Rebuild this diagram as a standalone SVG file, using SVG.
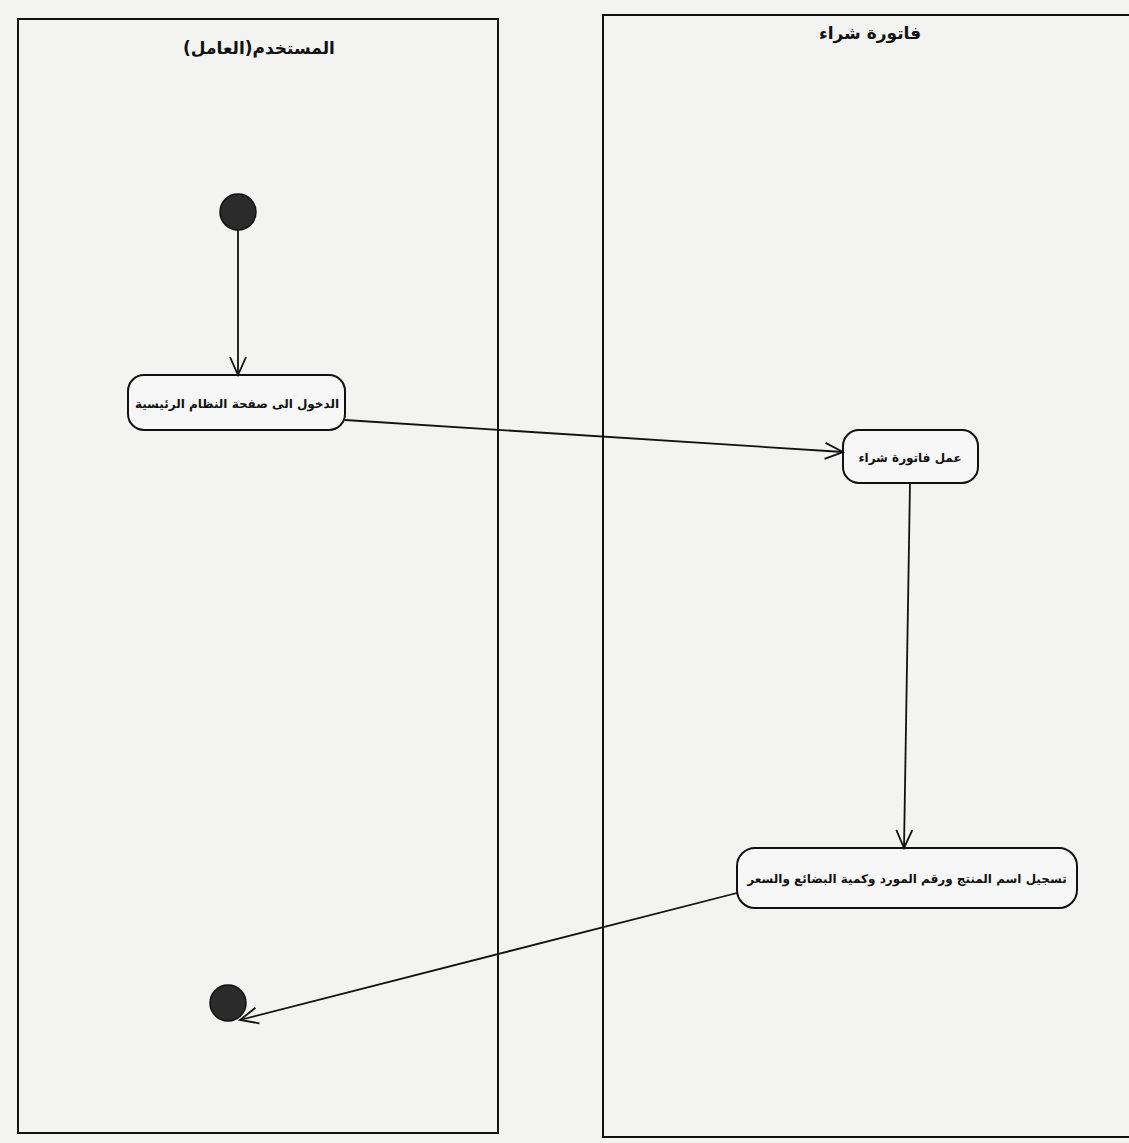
<svg xmlns="http://www.w3.org/2000/svg" width="1129" height="1143" viewBox="0 0 1129 1143">
<defs>
<style>
.lane{fill:none;stroke:#111;stroke-width:2}
.title{font-family:"DejaVu Sans","Noto Sans",sans-serif;font-size:17px;font-weight:bold;fill:#111;text-anchor:middle}
.act rect{fill:#f7f7f7;stroke:#111;stroke-width:2}
.act text{font-family:"DejaVu Sans","Noto Sans",sans-serif;font-size:12px;font-weight:bold;fill:#111;text-anchor:middle}
.flow{fill:none;stroke:#111;stroke-width:1.8}
.dot{fill:#2b2b2b;stroke:#111;stroke-width:1.5}
</style>
<marker id="arr" markerWidth="22" markerHeight="22" refX="20" refY="11" orient="auto" markerUnits="userSpaceOnUse">
<path d="M2,3 L20,11 L2,19" fill="none" stroke="#111" stroke-width="1.8"/>
</marker>
</defs>
<rect width="1129" height="1143" fill="#f3f3f2"/>
<g id="lane-user">
<rect class="lane" x="18" y="19" width="480" height="1114"/>
<text class="title" x="259" y="54" direction="rtl">المستخدم(العامل)</text>
</g>
<g id="lane-invoice">
<rect class="lane" x="603" y="15" width="540" height="1122"/>
<text class="title" x="870" y="39" direction="rtl">فاتورة شراء</text>
</g>
<g id="start"><circle class="dot" cx="238" cy="212" r="18"/></g>
<g id="a1" class="act">
<rect x="128" y="375" width="217" height="55" rx="16"/>
<text x="237" y="408" direction="rtl">الدخول الى صفحة النظام الرئيسية</text>
</g>
<g id="a2" class="act">
<rect x="843" y="430" width="135" height="53" rx="16"/>
<text x="910" y="462" direction="rtl">عمل فاتورة شراء</text>
</g>
<g id="a3" class="act">
<rect x="737" y="848" width="340" height="60" rx="18"/>
<text x="907" y="883" direction="rtl">تسجيل اسم المنتج ورقم المورد وكمية البضائع والسعر</text>
</g>
<g id="end"><circle class="dot" cx="228" cy="1003" r="18"/></g>
<g id="connectors">
<path class="flow" d="M238,230 L238,375" marker-end="url(#arr)"/>
<path class="flow" d="M345,420 L843,452" marker-end="url(#arr)"/>
<path class="flow" d="M910,483 L904,848" marker-end="url(#arr)"/>
<path class="flow" d="M737,893 L240,1020" marker-end="url(#arr)"/>
</g>
</svg>
